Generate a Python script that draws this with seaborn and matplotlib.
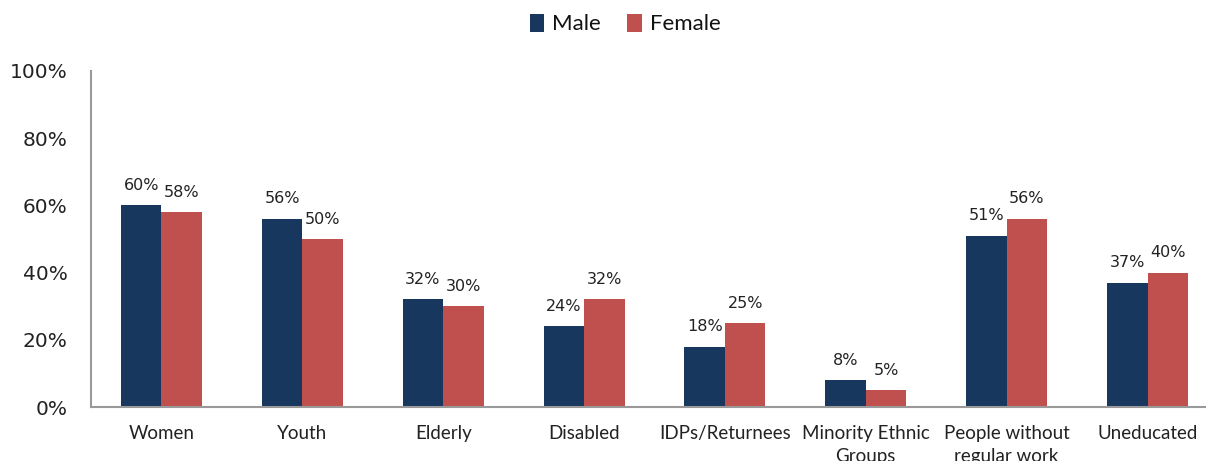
import matplotlib
matplotlib.use("Agg")
import matplotlib.pyplot as plt
import seaborn as sns
import pandas as pd

categories = ["Women", "Youth", "Elderly", "Disabled", "IDPs/Returnees",
              "Minority Ethnic\nGroups", "People without\nregular work", "Uneducated"]
male = [60, 56, 32, 24, 18, 8, 51, 37]
female = [58, 50, 30, 32, 25, 5, 56, 40]
series = ["Male", "Female"]
yticks = [0, 20, 40, 60, 80, 100]

df = pd.DataFrame({
    "category": categories * 2,
    "value": male + female,
    "sex": ["Male"] * len(categories) + ["Female"] * len(categories),
})

sns.set_theme(style="white")
plt.rcParams["font.family"] = ["DejaVu Sans"]

fig = plt.figure(figsize=(12.06, 4.61), dpi=100)
ax = fig.add_axes([91 / 1206, 1 - 407 / 461, 1127 / 1206, (407 - 71) / 461])

palette = {"Male": "#17375E", "Female": "#C0504D"}
sns.barplot(data=df, x="category", y="value", hue="sex", hue_order=series,
            palette=palette, width=0.575, saturation=1, ax=ax, legend=True,
            linewidth=0)

for c in ax.containers:
    ax.bar_label(c, labels=[f"{v:.0f}%" for v in c.datavalues], padding=9,
                 fontsize=11.5, color="#222222")

ax.set_ylim(0, 100)
ax.set_yticks(yticks)
ax.set_yticklabels([f"{t}%" for t in yticks], fontsize=14.5, color="#222222")
ax.set_xlabel("")
ax.set_ylabel("")
ax.tick_params(axis="x", length=0, pad=13)
ax.tick_params(axis="y", length=0, pad=17)
for lab in ax.get_xticklabels():
    lab.set_fontfamily("Lato")
    lab.set_fontsize(13.5)
    lab.set_color("#222222")
    lab.set_verticalalignment("top")
    lab.set_linespacing(1.4)

for s in ["top", "right"]:
    ax.spines[s].set_visible(False)
for s in ["left", "bottom"]:
    ax.spines[s].set_color("#999999")
    ax.spines[s].set_linewidth(1.5)

leg = ax.legend(loc="center", bbox_to_anchor=(625 / 1206, 1 - 24 / 461),
                bbox_transform=fig.transFigure, ncol=2, frameon=False,
                handlelength=0.65, handleheight=0.9, handletextpad=0.35,
                columnspacing=1.2, prop={"family": "Lato", "size": 16})
for t in leg.get_texts():
    t.set_color("#111111")

fig.savefig("out.png", dpi=100)
